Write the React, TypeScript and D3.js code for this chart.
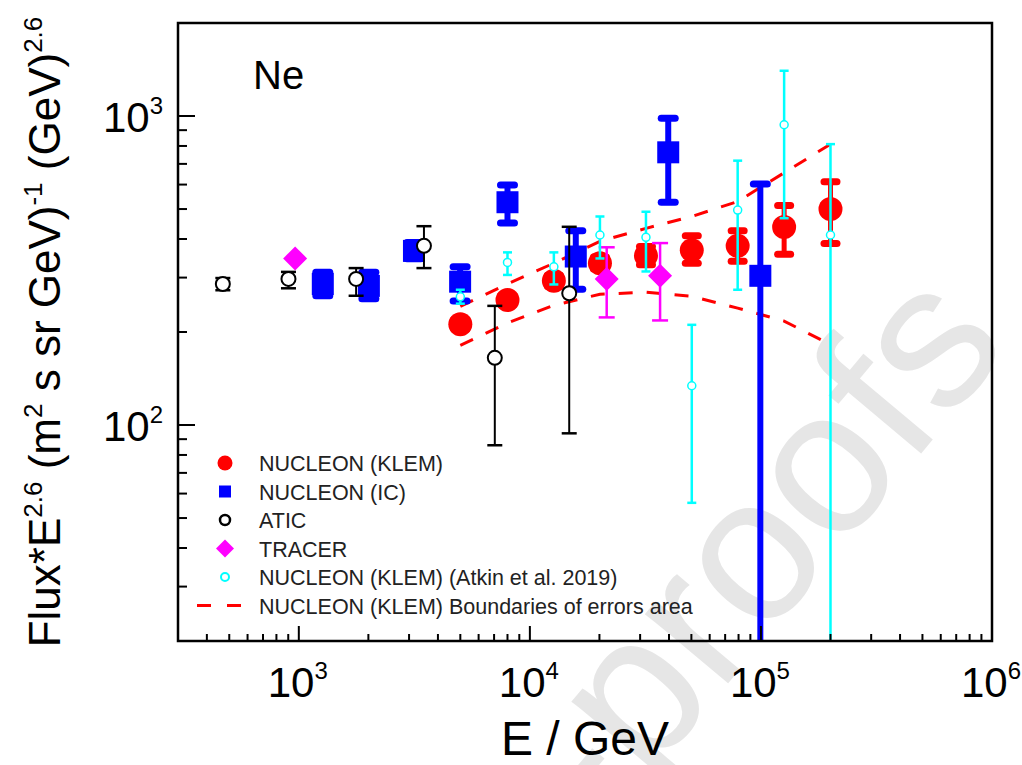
import React, { useEffect, useRef } from 'react';
import * as d3 from 'd3';

// NUCLEON (KLEM)
const klemE = [5000, 8000, 12700, 20100, 31800, 50200, 79300, 126000, 200000];
const klemV = [212, 254, 293, 334, 353, 368, 380, 437, 500];
const klemLo = [204, 245, 281, 320, 330, 334, 339, 357, 387];
const klemHi = [220, 263, 305, 350, 378, 410, 425, 513, 613];

// NUCLEON (IC)
const icE = [1270, 2010, 3150, 4990, 8000, 15800, 39700, 99400];
const icV = [286, 282, 366, 291, 526, 351, 763, 304];
const icLo = [262, 256, 345, 252, 451, 275, 526, 5];
const icHi = [312, 312, 390, 325, 598, 425, 983, 603];

// ATIC
const aticE = [469, 902, 1770, 3480, 7050, 14800];
const aticV = [286, 297, 297, 380, 165, 267];
const aticLo = [273, 277, 262, 322, 86, 94];
const aticHi = [299, 313, 322, 440, 243, 438];

// TRACER
const tracerE = [964, 21500, 36600];
const tracerV = [346, 297, 304];
const tracerLo = [346, 223, 218];
const tracerHi = [346, 376, 388];

// NUCLEON (KLEM) (Atkin et al. 2019)
const atkinE = [5000, 8000, 12700, 20100, 31800, 50200, 79300, 126000, 200000];
const atkinV = [260, 336, 325, 412, 405, 134, 496, 937, 412];
const atkinLo = [247, 306, 285, 346, 314, 56, 274, 467, 5];
const atkinHi = [274, 362, 362, 473, 490, 211, 717, 1401, 811];

// boundaries of errors area
const bandE = [5000, 8000, 12700, 20100, 31800, 50200, 79300, 126000, 200000];
const bandUp = [242, 286, 334, 393, 433, 473, 529, 655, 811];
const bandLow = [181, 214, 244, 265, 269, 261, 239, 217, 182];

const xTicks = [3, 4, 5, 6];
const yTicks = [2, 3];

const legendLabels = [
    'NUCLEON (KLEM)',
    'NUCLEON (IC)',
    'ATIC',
    'TRACER',
    'NUCLEON (KLEM) (Atkin et al. 2019)',
    'NUCLEON (KLEM) Boundaries of errors area',
];

export default function App() {
    const svgRef = useRef<SVGSVGElement>(null);

    useEffect(() => {
        const svg = d3.select(svgRef.current);
        svg.selectAll('*').remove();

        const left = 178;
        const right = 992;
        const top = 23;
        const bottom = 641;

        const x = d3.scaleLog().domain([300, 1e6]).range([left, right]);
        const y = d3.scaleLog().domain([20, 2000]).range([bottom, top]);

        // watermark
        svg.append('text')
            .attr('transform', 'translate(1012,345) rotate(-50)')
            .attr('text-anchor', 'end')
            .attr('font-size', 205)
            .attr('fill', '#e6e6e6')
            .text('Journal Pre-proofs');

        svg.append('clipPath').attr('id', 'plot-clip')
            .append('rect')
            .attr('x', left).attr('y', top)
            .attr('width', right - left).attr('height', bottom - top);

        const plot = svg.append('g').attr('clip-path', 'url(#plot-clip)');

        // dashed boundaries
        const line = d3.line<number>()
            .x((d, i) => x(bandE[i]))
            .y(d => y(d));
        [bandUp, bandLow].forEach(arr => {
            plot.append('path')
                .datum(arr)
                .attr('fill', 'none')
                .attr('stroke', '#ff0000')
                .attr('stroke-width', 3)
                .attr('stroke-dasharray', '14,14')
                .attr('d', line);
        });

        const errorBars = (E, Lo, Hi, color, barW, capW, capT, round) => {
            const g = plot.append('g');
            E.forEach((e, i) => {
                if (Lo[i] === Hi[i]) return;
                g.append('line')
                    .attr('x1', x(e)).attr('x2', x(e))
                    .attr('y1', y(Lo[i])).attr('y2', y(Hi[i]))
                    .attr('stroke', color).attr('stroke-width', barW);
                [Lo[i], Hi[i]].forEach(v => {
                    const half = round ? (capW - capT) / 2 : capW / 2;
                    g.append('line')
                        .attr('x1', x(e) - half).attr('x2', x(e) + half)
                        .attr('y1', y(v)).attr('y2', y(v))
                        .attr('stroke', color).attr('stroke-width', capT)
                        .attr('stroke-linecap', round ? 'round' : 'butt');
                });
            });
            return g;
        };

        // NUCLEON (KLEM)
        errorBars(klemE, klemLo, klemHi, '#ff0000', 5, 20, 7, true)
            .selectAll('circle').data(klemE).join('circle')
            .attr('cx', d => x(d)).attr('cy', (d, i) => y(klemV[i]))
            .attr('r', 12).attr('fill', '#ff0000');

        // NUCLEON (IC)
        errorBars(icE, icLo, icHi, '#0000ff', 6, 21, 7, true)
            .selectAll('rect').data(icE).join('rect')
            .attr('x', d => x(d) - 11).attr('y', (d, i) => y(icV[i]) - 11)
            .attr('width', 22).attr('height', 22).attr('fill', '#0000ff');

        // ATIC
        errorBars(aticE, aticLo, aticHi, '#000000', 2, 15, 2.5, false)
            .selectAll('circle').data(aticE).join('circle')
            .attr('cx', d => x(d)).attr('cy', (d, i) => y(aticV[i]))
            .attr('r', 7).attr('fill', '#ffffff')
            .attr('stroke', '#000000').attr('stroke-width', 2);

        // TRACER
        errorBars(tracerE, tracerLo, tracerHi, '#ff00ff', 2.5, 16, 2.5, false)
            .selectAll('path').data(tracerE).join('path')
            .attr('transform', (d, i) => `translate(${x(d)},${y(tracerV[i])})`)
            .attr('d', 'M0,-12L12,0L0,12L-12,0Z')
            .attr('fill', '#ff00ff');

        // Atkin et al. 2019
        errorBars(atkinE, atkinLo, atkinHi, '#00ffff', 2.5, 9, 2.5, false)
            .selectAll('circle').data(atkinE).join('circle')
            .attr('cx', d => x(d)).attr('cy', (d, i) => y(atkinV[i]))
            .attr('r', 4).attr('fill', '#ffffff')
            .attr('stroke', '#00ffff').attr('stroke-width', 1.5);

        // frame
        svg.append('rect')
            .attr('x', left).attr('y', top)
            .attr('width', right - left).attr('height', bottom - top)
            .attr('fill', 'none').attr('stroke', '#000').attr('stroke-width', 2.5);

        // x ticks
        const xg = svg.append('g');
        for (let p = 2; p < 6; p++) {
            for (let m = 1; m < 10; m++) {
                const v = m * Math.pow(10, p);
                if (v < 300 || v > 1e6) continue;
                const len = m === 1 ? 15 : 7;
                xg.append('line')
                    .attr('x1', x(v)).attr('x2', x(v))
                    .attr('y1', bottom).attr('y2', bottom - len)
                    .attr('stroke', '#000').attr('stroke-width', 2);
            }
        }
        xTicks.forEach(p => {
            const t = xg.append('text')
                .attr('x', x(Math.pow(10, p)) - 1).attr('y', 697)
                .attr('text-anchor', 'middle')
                .attr('font-size', 42);
            t.append('tspan').text('10');
            t.append('tspan').attr('dy', -18).attr('font-size', 24).text(p);
        });

        // y ticks
        const yg = svg.append('g');
        for (let p = 1; p < 4; p++) {
            for (let m = 1; m < 10; m++) {
                const v = m * Math.pow(10, p);
                if (v < 20 || v > 2000) continue;
                const len = m === 1 ? 17 : 9;
                yg.append('line')
                    .attr('x1', left).attr('x2', left + len)
                    .attr('y1', y(v)).attr('y2', y(v))
                    .attr('stroke', '#000').attr('stroke-width', 2);
            }
        }
        yTicks.forEach(p => {
            const t = yg.append('text')
                .attr('x', 163).attr('y', y(Math.pow(10, p)) + 16)
                .attr('text-anchor', 'end')
                .attr('font-size', 42);
            t.append('tspan').text('10');
            t.append('tspan').attr('dy', -18).attr('font-size', 24).text(p);
        });

        // axis titles
        svg.append('text')
            .attr('x', (left + right) / 2).attr('y', 755)
            .attr('text-anchor', 'middle')
            .attr('font-size', 48)
            .text('E / GeV');

        const yt = svg.append('text')
            .attr('transform', `translate(60,${(top + bottom) / 2}) rotate(-90)`)
            .attr('text-anchor', 'middle')
            .attr('font-size', 44);
        yt.append('tspan').text('Flux*E');
        yt.append('tspan').attr('dy', -18).attr('font-size', 26).text('2.6');
        yt.append('tspan').attr('dy', 18).text(' (m');
        yt.append('tspan').attr('dy', -18).attr('font-size', 26).text('2');
        yt.append('tspan').attr('dy', 18).text(' s sr GeV)');
        yt.append('tspan').attr('dy', -18).attr('font-size', 26).text('-1');
        yt.append('tspan').attr('dy', 18).text(' (GeV)');
        yt.append('tspan').attr('dy', -18).attr('font-size', 26).text('2.6');

        svg.append('text')
            .attr('x', 253).attr('y', 89)
            .attr('font-size', 40)
            .text('Ne');

        // legend
        const lg = svg.append('g');
        const rowY = d3.range(legendLabels.length).map(i => 463 + i * 28.5);
        const mx = 225;
        lg.append('circle').attr('cx', mx).attr('cy', rowY[0]).attr('r', 7.5).attr('fill', '#ff0000');
        lg.append('rect').attr('x', mx - 6).attr('y', rowY[1] - 6).attr('width', 12).attr('height', 12).attr('fill', '#0000ff');
        lg.append('circle').attr('cx', mx).attr('cy', rowY[2]).attr('r', 5).attr('fill', '#fff')
            .attr('stroke', '#000').attr('stroke-width', 2.5);
        lg.append('path').attr('transform', `translate(${mx},${rowY[3]})`)
            .attr('d', 'M0,-9L9,0L0,9L-9,0Z').attr('fill', '#ff00ff');
        lg.append('circle').attr('cx', mx).attr('cy', rowY[4]).attr('r', 4).attr('fill', '#fff')
            .attr('stroke', '#00ffff').attr('stroke-width', 2);
        lg.append('line').attr('x1', 197).attr('x2', 241).attr('y1', rowY[5]).attr('y2', rowY[5])
            .attr('stroke', '#ff0000').attr('stroke-width', 3).attr('stroke-dasharray', '14,16');
        legendLabels.forEach((label, i) => {
            lg.append('text')
                .attr('x', 259).attr('y', rowY[i] + 8)
                .attr('font-size', 21.5)
                .attr('fill', '#222')
                .text(label);
        });
    }, []);

    return (
        <svg
            ref={svgRef}
            width={1022}
            height={765}
            style={{ position: 'absolute', left: 0, top: 0, background: '#fff', fontFamily: '"Liberation Sans", Arial, sans-serif' }}
        />
    );
}
